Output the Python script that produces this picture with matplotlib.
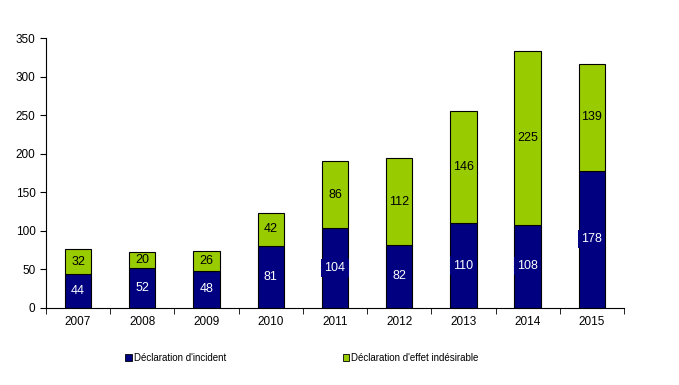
import matplotlib
matplotlib.use("Agg")
import matplotlib.pyplot as plt
from matplotlib.patches import Patch
import numpy as np

plt.rcParams['font.family'] = ['Liberation Sans', 'DejaVu Sans']

years = ['2007', '2008', '2009', '2010', '2011', '2012', '2013', '2014', '2015']
incident = [44, 52, 48, 81, 104, 82, 110, 108, 178]
effet = [32, 20, 26, 42, 86, 112, 146, 225, 139]

navy = '#000080'
green = '#99CC00'

fig = plt.figure(figsize=(6.79, 3.85), dpi=100)
ax = fig.add_axes([0.0677, 0.2, 0.8513, 0.701])
x = np.arange(len(years))
w = 0.41
ax.bar(x, incident, w, color=navy, edgecolor='black', linewidth=0.8, zorder=2)
ax.bar(x, effet, w, bottom=incident, color=green, edgecolor='black', linewidth=0.8, zorder=2)

for i in range(len(years)):
    ax.text(x[i], incident[i] / 2, str(incident[i]), ha='center', va='center',
            color='white', fontsize=9, zorder=3,
            bbox=dict(boxstyle='square,pad=0.25', fc=navy, ec='none'))
    ax.text(x[i], incident[i] + effet[i] / 2, str(effet[i]), ha='center', va='center',
            color='black', fontsize=9, zorder=3)

ax.set_xlim(-0.5, len(years) - 0.5)
ax.set_ylim(0, 350)
ax.set_yticks(range(0, 351, 50))
ax.set_xticks(x)
ax.set_xticklabels(years)
ax.set_xticks(np.arange(-0.5, len(years), 1), minor=True)
ax.tick_params(axis='x', which='major', length=0, pad=6, labelsize=8.5)
ax.tick_params(axis='x', which='minor', length=4, direction='out')
ax.tick_params(axis='y', length=4, direction='out', labelsize=8.5)
ax.spines['top'].set_visible(False)
ax.spines['right'].set_visible(False)

handles = [Patch(fc=navy, ec='black', lw=0.6), Patch(fc=green, ec='black', lw=0.6)]
fig.legend(handles, ['Déclaration d\'incident', 'Déclaration d\'effet indésirable'],
           loc='center left', bbox_to_anchor=(0.171, 0.07), ncol=2, frameon=False,
           fontsize=7, handlelength=0.7, handleheight=0.7, handletextpad=0.2,
           columnspacing=12)

fig.savefig('out.png', dpi=100)
